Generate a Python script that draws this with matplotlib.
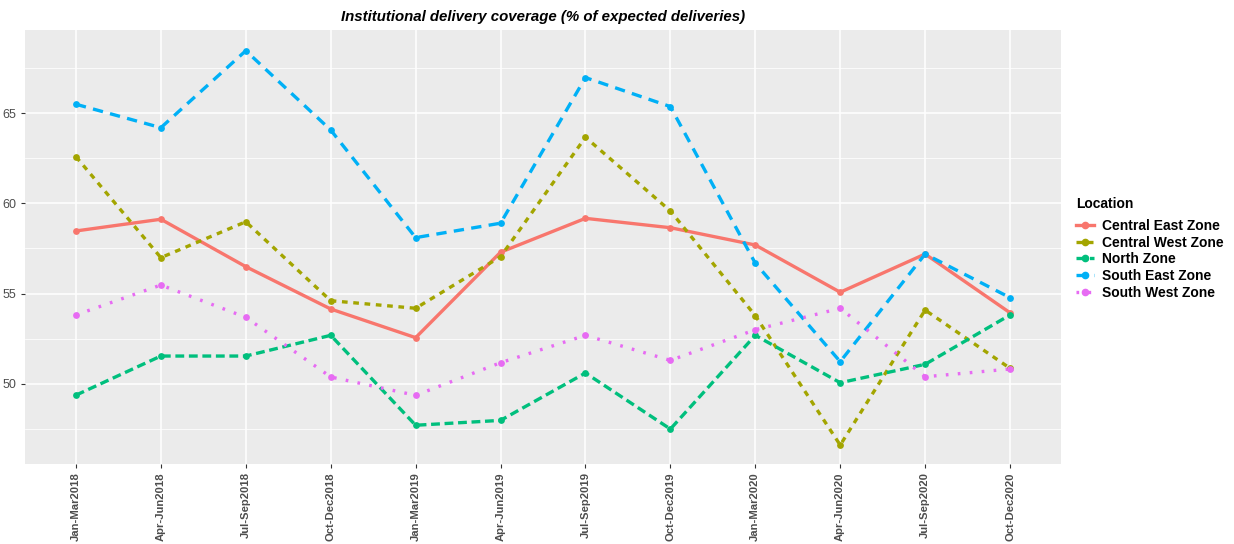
import matplotlib
matplotlib.use("Agg")
import matplotlib.pyplot as plt
from matplotlib.ticker import FixedLocator
from matplotlib.lines import Line2D

plt.rcParams["font.family"] = ["Liberation Sans", "DejaVu Sans"]

quarters = ["Jan-Mar2018", "Apr-Jun2018", "Jul-Sep2018", "Oct-Dec2018",
            "Jan-Mar2019", "Apr-Jun2019", "Jul-Sep2019", "Oct-Dec2019",
            "Jan-Mar2020", "Apr-Jun2020", "Jul-Sep2020", "Oct-Dec2020"]

central_east = [58.47, 59.12, 56.49, 54.14, 52.55, 57.29, 59.17, 58.65, 57.69, 55.07, 57.19, 53.93]
central_west = [62.59, 56.99, 58.98, 54.60, 54.18, 57.04, 63.67, 59.58, 53.77, 46.59, 54.08, 50.85]
north = [49.36, 51.53, 51.53, 52.68, 47.69, 47.96, 50.59, 47.48, 52.68, 50.05, 51.07, 53.81]
south_east = [65.50, 64.20, 68.47, 64.07, 58.10, 58.90, 66.98, 65.37, 56.68, 51.22, 57.19, 54.77]
south_west = [53.81, 55.47, 53.68, 50.37, 49.35, 51.16, 52.68, 51.29, 52.99, 54.18, 50.38, 50.81]

series_names = ["Central East Zone", "Central West Zone", "North Zone",
                "South East Zone", "South West Zone"]
series_values = [central_east, central_west, north, south_east, south_west]
colors = ["#F8766D", "#A3A500", "#00BF7D", "#00B0F6", "#E76BF3"]
lw = 2.4
dashes = [None, (1.7, 1.7), (2.65, 1.4), (3.1, 2.2), (0.8, 2.8)]

fig = plt.figure(figsize=(12.34, 5.44), dpi=100)
ax = fig.add_axes([25/1234, 80/544, (1061-25)/1234, (464-30)/544])
ax.set_facecolor("#EBEBEB")

x = list(range(1, len(quarters) + 1))
handles = []
for name, vals, c, d in zip(series_names, series_values, colors, dashes):
    kw = dict(color=c, lw=lw, zorder=3)
    if d is not None:
        kw["dashes"] = d
    ax.plot(x, vals, solid_capstyle="butt", dash_capstyle="butt", **kw)
    ax.scatter(x, vals, color=c, s=24, zorder=4, linewidths=0)
    hkw = dict(color=c, lw=lw, marker="o", markersize=4.5)
    if d is not None:
        hkw["dashes"] = d
    handles.append(Line2D([0], [0], **hkw))

ax.set_xlim(0.4, 12.6)
ax.set_ylim(45.54, 69.62)
ax.set_xticks(x)
ax.set_xticklabels(quarters, rotation=90, fontweight="bold", color="#4D4D4D", fontsize=8.1)
ax.set_yticks([50, 55, 60, 65])
ax.set_yticklabels(["50", "55", "60", "65"], color="#4D4D4D", fontsize=9)
ax.yaxis.set_minor_locator(FixedLocator([47.5, 52.5, 57.5, 62.5, 67.5]))
ax.tick_params(axis="both", which="major", length=3, color="#333333", width=0.8, pad=3)
ax.tick_params(axis="y", which="minor", length=0)
ax.grid(True, which="major", color="white", lw=1.1, zorder=0)
ax.grid(True, which="minor", axis="y", color="white", lw=0.55, zorder=0)
ax.set_axisbelow(True)
for s in ax.spines.values():
    s.set_visible(False)

fig.text(543/1234, 1 - 17/544, "Institutional delivery coverage (% of expected deliveries)",
         ha="center", va="center", fontsize=10.8, fontweight="bold", fontstyle="italic")

fig.text(1076/1234, 1 - 204/544, "Location", ha="left", va="center",
         fontsize=10, fontweight="bold")
leg = fig.legend(handles, series_names, loc="upper left",
                 bbox_to_anchor=(1066/1234, 1 - 209/544), frameon=False,
                 handlelength=1.3, handletextpad=0.6, labelspacing=0.2,
                 borderpad=0.2,
                 prop={"weight": "bold", "size": 10})

fig.savefig("out.png", dpi=100)
